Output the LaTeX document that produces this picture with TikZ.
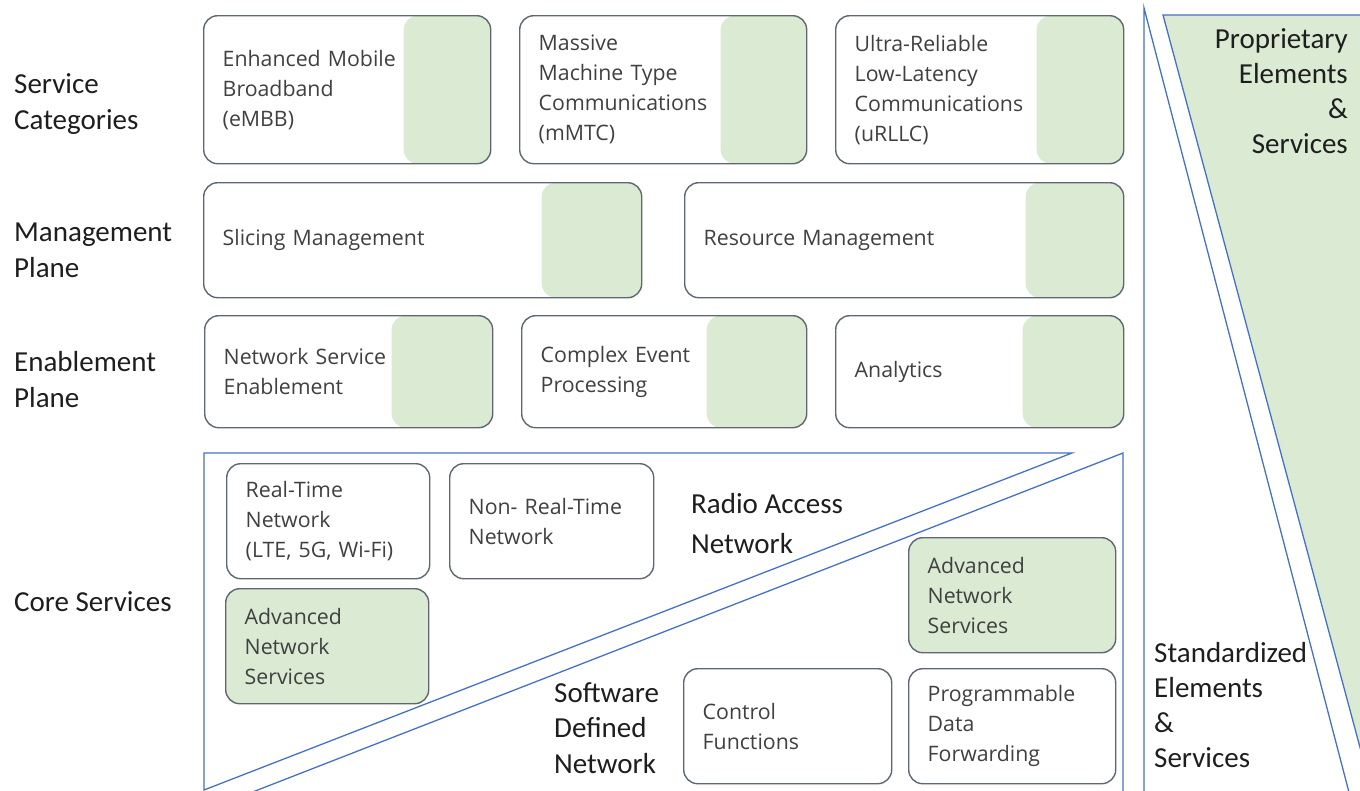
\documentclass[tikz,border=0pt]{standalone}
\usepackage{fontspec}
\setmainfont{Open Sans}
\newfontfamily\labfont{Carlito}
\definecolor{grn}{RGB}{218,234,211}
\definecolor{bl}{RGB}{68,114,196}
\definecolor{bx}{RGB}{95,104,114}
\definecolor{txt}{RGB}{64,64,64}
\definecolor{ltxt}{RGB}{30,30,30}
\begin{document}
\begin{tikzpicture}[x=1pt,y=-1pt,
  box/.style={draw=bx, line width=1.4pt, rounded corners=14pt, fill=white,
    anchor=north west, inner xsep=19pt, inner ysep=0pt, align=left,
    font=\fontsize{21.3}{30}\selectfont, text=txt},
  half/.style={path picture={\fill[grn] ([xshift=-#1]path picture bounding box.north east) rectangle (path picture bounding box.south east);}},
  lbl/.style={anchor=base west, align=left, inner sep=0pt, text=ltxt},
  tri/.style={draw=bl, line width=1.3pt, line join=miter}]
\useasboundingbox (0,0) rectangle (1360,790);
\clip (0,0) rectangle (1360,790);

% right-hand triangles
\fill[grn] (1163,15) -- (1372,15) -- (1372,792) -- cycle;
\draw[tri] (1372,792) -- (1163,15) -- (1372,15);
\draw[tri] (1144,800) -- (1144,8) -- (1351,800);

% core services triangles
\draw[tri] (204,453) -- (1072,453) -- (204,790) -- cycle;
\draw[tri] (1123,453) -- (1123,800) -- (232,800) -- cycle;

% left labels (base = baseline of last line)
\node[lbl, font=\labfont\fontsize{29}{36}\selectfont] (lsc) at (14,129) {Service\\Categories};
\node[lbl, font=\labfont\fontsize{29}{36}\selectfont] (lmp) at (14,277) {Management\\Plane};
\node[lbl, font=\labfont\fontsize{29}{36}\selectfont] (lep) at (14,407) {Enablement\\Plane};
\node[lbl, font=\labfont\fontsize{29}{36}\selectfont] (lcs) at (14,611) {Core Services};

% service categories
\node[box, half=87pt, text width=249pt, minimum height=148pt] (embb) at (203,15) {Enhanced Mobile\\Broadband\\(eMBB)};
\node[box, half=86pt, text width=249pt, minimum height=148pt] (mmtc) at (519,15) {Massive\\Machine Type\\Communications\\(mMTC)};
\node[box, half=87pt, text width=250pt, minimum height=148pt] (urllc) at (835,15) {Ultra-Reliable\\Low-Latency\\Communications\\(uRLLC)};

% management plane
\node[box, half=100pt, text width=400pt, minimum height=115pt] (slice) at (203,182) {Slicing Management};
\node[box, half=98pt, text width=401pt, minimum height=115pt] (res) at (684,182) {Resource Management};

% enablement plane
\node[box, half=101pt, text width=250pt, minimum height=112pt] (nse) at (204,315) {Network Service\\Enablement};
\node[box, half=100pt, text width=247pt, minimum height=112pt] (cep) at (521,315) {Complex Event\\Processing};
\node[box, half=101pt, text width=250pt, minimum height=112pt] (ana) at (835,315) {Analytics};

% core services boxes
\node[box, text width=165pt, minimum height=115pt] (rt) at (226,463) {Real-Time\\Network\\(LTE, 5G, Wi-Fi)};
\node[box, text width=166pt, minimum height=115pt] (nrt) at (449,463) {Non- Real-Time\\Network};
\node[box, fill=grn, text width=165pt, minimum height=115pt] (ansl) at (225,588) {Advanced\\Network\\Services};
\node[box, fill=grn, text width=169pt, minimum height=115pt] (ansr) at (908,537) {Advanced\\Network\\Services};
\node[box, text width=170pt, minimum height=115pt] (ctrl) at (683,668) {Control\\Functions};
\node[box, text width=169pt, minimum height=115pt] (pdf) at (908,668) {Programmable\\Data\\Forwarding};

% core labels
\node[lbl, font=\labfont\fontsize{29}{40}\selectfont] (ran) at (691,553) {Radio Access\\Network};
\node[lbl, font=\labfont\fontsize{29}{35.5}\selectfont] (sdn) at (554,773) {Software\\Defined\\Network};

% right labels
\node[lbl, anchor=base east, align=right, font=\labfont\fontsize{29}{35}\selectfont] (prop) at (1348,153) {Proprietary\\Elements\\\&\\Services};
\node[lbl, font=\labfont\fontsize{29}{35}\selectfont] (std) at (1154,767) {Standardized\\Elements\\\&\\Services};
\end{tikzpicture}
\end{document}
